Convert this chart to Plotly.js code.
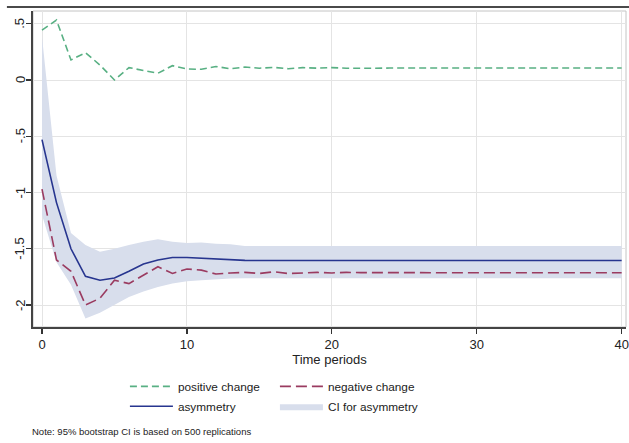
<!DOCTYPE html>
<html>
<head>
<meta charset="utf-8">
<script src="https://cdn.plot.ly/plotly-3.0.1.min.js"></script>
<style>html,body{margin:0;padding:0;background:#fff;}#chart{width:629px;height:443px;}</style>
</head>
<body>
<div id="chart"></div>
<script>
// ---- data ----
const periods = Array.from({length: 41}, (_, i) => i);

const positiveChange = [0.444, 0.533, 0.178, 0.243, 0.133, 0.0, 0.11, 0.083, 0.06, 0.127,
  0.098, 0.095, 0.12, 0.10, 0.115, 0.105, 0.112, 0.10, 0.11, 0.105,
  0.11, 0.105, 0.108, 0.105, 0.106, 0.106, 0.106, 0.106, 0.106, 0.106,
  0.106, 0.106, 0.106, 0.106, 0.106, 0.106, 0.106, 0.106, 0.106, 0.106, 0.106];

const negativeChange = [-0.97, -1.60, -1.70, -2.00, -1.94, -1.78, -1.81, -1.735, -1.66, -1.72,
  -1.68, -1.69, -1.725, -1.715, -1.71, -1.72, -1.705, -1.72, -1.715, -1.71,
  -1.715, -1.71, -1.712, -1.713, -1.713, -1.713, -1.713, -1.713, -1.713, -1.713,
  -1.713, -1.713, -1.713, -1.713, -1.713, -1.713, -1.713, -1.713, -1.713, -1.713, -1.713];

const asymmetry = [-0.53, -1.09, -1.50, -1.745, -1.78, -1.76, -1.70, -1.635, -1.60, -1.578,
  -1.578, -1.585, -1.59, -1.595, -1.603, -1.605, -1.605, -1.605, -1.605, -1.605,
  -1.605, -1.605, -1.605, -1.605, -1.605, -1.605, -1.605, -1.605, -1.605, -1.605,
  -1.605, -1.605, -1.605, -1.605, -1.605, -1.605, -1.605, -1.605, -1.605, -1.605, -1.605];

const ciUpper = [0.385, -0.85, -1.36, -1.467, -1.526, -1.50, -1.467, -1.437, -1.416, -1.437,
  -1.45, -1.445, -1.455, -1.46, -1.475, -1.476, -1.476, -1.476, -1.476, -1.476,
  -1.476, -1.476, -1.476, -1.476, -1.476, -1.476, -1.476, -1.476, -1.476, -1.476,
  -1.476, -1.476, -1.476, -1.476, -1.476, -1.476, -1.476, -1.476, -1.476, -1.476, -1.476];

const ciLower = [-1.2, -1.62, -1.82, -2.12, -2.07, -2.00, -1.93, -1.88, -1.84, -1.81,
  -1.79, -1.78, -1.77, -1.765, -1.763, -1.763, -1.763, -1.763, -1.763, -1.763,
  -1.763, -1.763, -1.763, -1.763, -1.763, -1.763, -1.763, -1.763, -1.763, -1.763,
  -1.763, -1.763, -1.763, -1.763, -1.763, -1.763, -1.763, -1.763, -1.763, -1.763, -1.763];

const xTickVals = [0, 10, 20, 30, 40];
const yTickVals = [0.5, 0, -0.5, -1, -1.5, -2];
const yTickText = ['.5', '0', '-.5', '-1', '-1.5', '-2'];

const seriesNames = ['positive change', 'negative change', 'asymmetry', 'CI for asymmetry'];
const xTitle = 'Time periods';
const noteText = 'Note: 95% bootstrap CI is based on 500 replications';

// ---- styles ----
const FONT = 'Liberation Sans, Arial, Helvetica, sans-serif';
const cGreen = '#58b083', cRed = '#9a3b60', cBlue = '#27358f', cBand = '#d8deec';

const traces = [
  {x: periods, y: ciLower, type: 'scatter', mode: 'lines', line: {width: 0, color: cBand},
   showlegend: false, hoverinfo: 'skip'},
  {x: periods, y: ciUpper, type: 'scatter', mode: 'lines', fill: 'tonexty', fillcolor: cBand,
   line: {width: 0, color: cBand}, name: seriesNames[3], legend: 'legend2', legendrank: 2,
   legendwidth: 140},
  {x: periods, y: positiveChange, type: 'scatter', mode: 'lines', name: seriesNames[0],
   line: {color: cGreen, width: 1.6, dash: '7px,4px'}, legend: 'legend', legendrank: 1,
   legendwidth: 92},
  {x: periods, y: negativeChange, type: 'scatter', mode: 'lines', name: seriesNames[1],
   line: {color: cRed, width: 1.6, dash: '11px,5px'}, legend: 'legend', legendrank: 2,
   legendwidth: 140},
  {x: periods, y: asymmetry, type: 'scatter', mode: 'lines', name: seriesNames[2],
   line: {color: cBlue, width: 1.6}, legend: 'legend2', legendrank: 1, legendwidth: 92}
];

const legendCommon = {
  orientation: 'h', xref: 'paper', yref: 'paper', x: 0.155, xanchor: 'left', yanchor: 'top',
  bgcolor: 'rgba(0,0,0,0)', font: {family: FONT, size: 11.8, color: '#222'},
  itemwidth: 43, entrywidthmode: 'pixels', traceorder: 'normal'
};

// y tick labels sit closer to the axis than Plotly's default, so draw them as
// rotated annotations positioned on the y axis scale
const yLabelAnnotations = yTickVals.map((v, i) => ({
  text: yTickText[i], xref: 'paper', yref: 'y', x: -0.0219, y: v,
  xanchor: 'center', yanchor: 'middle', textangle: -90, showarrow: false,
  font: {family: FONT, size: 13, color: '#222'}
}));

const layout = {
  width: 629, height: 443,
  margin: {l: 33, r: 3, t: 11, b: 116, pad: 0},
  paper_bgcolor: '#fff', plot_bgcolor: '#fff',
  font: {family: FONT, size: 13, color: '#222'},
  showlegend: true,
  legend: Object.assign({}, legendCommon, {y: -0.142}),
  legend2: Object.assign({}, legendCommon, {y: -0.205}),
  xaxis: {
    range: [-0.621, 40.3], tickvals: xTickVals, ticks: 'outside', ticklen: 5, tickwidth: 1.2,
    tickcolor: '#333', showline: true, linecolor: '#444', linewidth: 1.6,
    showgrid: true, gridcolor: '#e4e4e4', gridwidth: 1, zeroline: false,
    tickfont: {family: FONT, size: 13, color: '#222'},
    title: {text: xTitle, font: {family: FONT, size: 13, color: '#222'}, standoff: 2}
  },
  yaxis: {
    range: [-2.1956, 0.6133], tickvals: yTickVals, showticklabels: false,
    ticks: 'outside', ticklen: 5, tickwidth: 1.2, tickcolor: '#333',
    showline: true, linecolor: '#444', linewidth: 1.6,
    showgrid: true, gridcolor: '#e4e4e4', gridwidth: 1, zeroline: false
  },
  shapes: [
    {type: 'rect', xref: 'paper', yref: 'paper', x0: 0, x1: 1, y0: 0, y1: 1,
     line: {color: '#c4c4c4', width: 1}, layer: 'below'},
    {type: 'line', xref: 'paper', yref: 'paper', x0: -0.044, x1: 1.01, y0: 1.0127, y1: 1.0127,
     line: {color: '#4a4a4a', width: 2}}
  ],
  annotations: yLabelAnnotations.concat([
    {text: noteText, xref: 'paper', yref: 'paper', x: -0.005, xanchor: 'left',
     y: -0.332, yanchor: 'middle', showarrow: false,
     font: {family: FONT, size: 9.5, color: '#222'}}
  ])
};

Plotly.newPlot('chart', traces, layout, {displayModeBar: false, staticPlot: true});
</script>
</body>
</html>
